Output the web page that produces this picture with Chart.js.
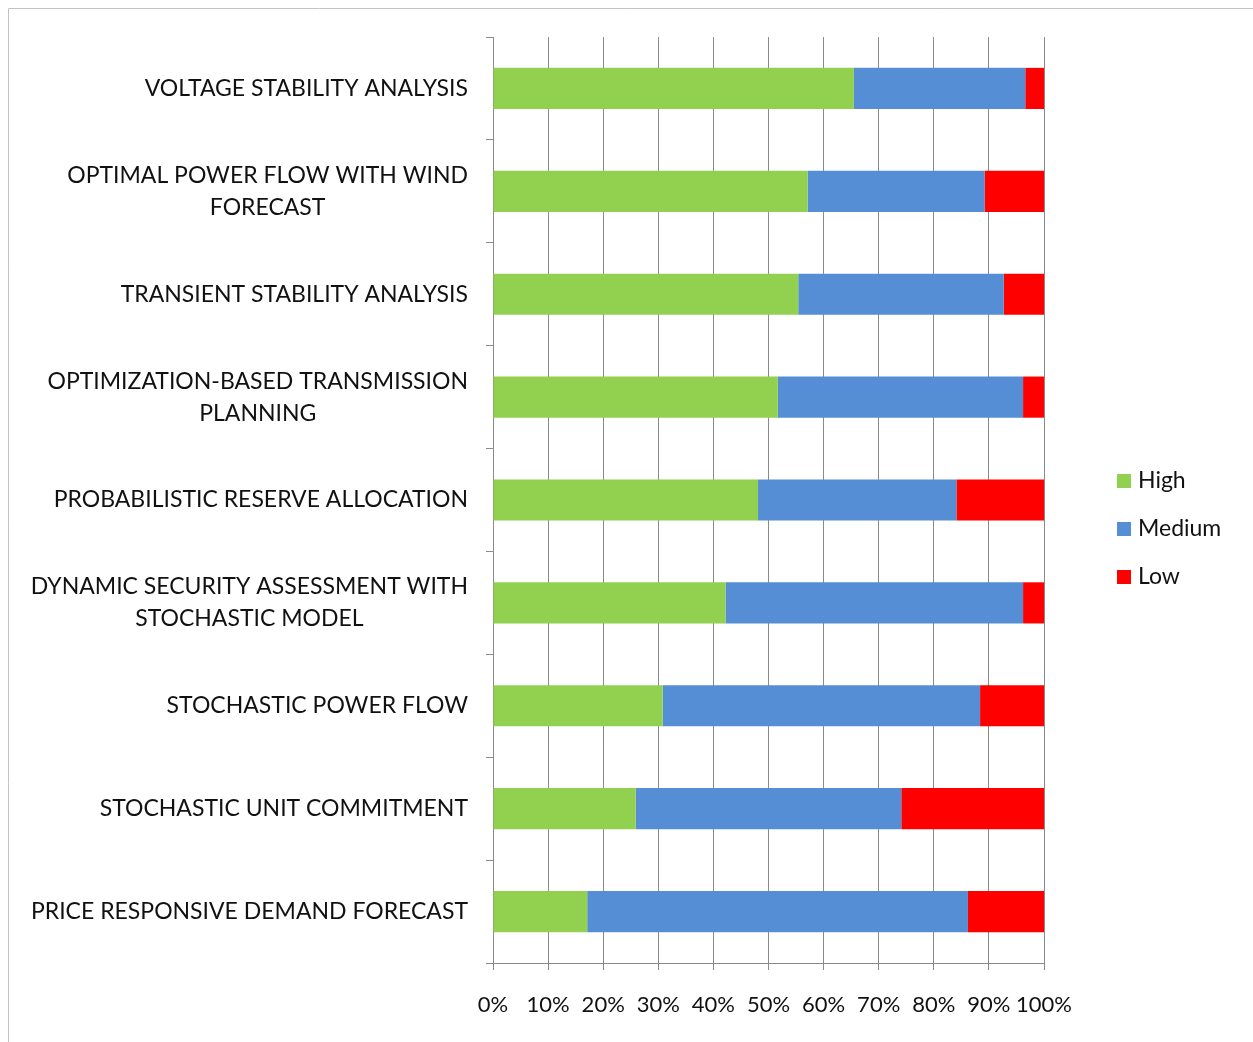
<!DOCTYPE html>
<html>
<head>
<meta charset="utf-8">
<script src="https://cdn.jsdelivr.net/npm/chart.js@4/dist/chart.umd.min.js"></script>
<style>
  html, body { margin: 0; padding: 0; background: #fff; }
</style>
</head>
<body>
<canvas id="chart" width="1253" height="1042"></canvas>
<script>
// categories (multi-line labels), top to bottom
const categories = [
  ["VOLTAGE STABILITY ANALYSIS"],
  ["OPTIMAL POWER FLOW WITH WIND", "FORECAST"],
  ["TRANSIENT STABILITY ANALYSIS"],
  ["OPTIMIZATION-BASED TRANSMISSION", "PLANNING"],
  ["PROBABILISTIC RESERVE ALLOCATION"],
  ["DYNAMIC SECURITY ASSESSMENT WITH", "STOCHASTIC MODEL"],
  ["STOCHASTIC POWER FLOW"],
  ["STOCHASTIC UNIT COMMITMENT"],
  ["PRICE RESPONSIVE DEMAND FORECAST"]
];

// share of answers, in %
const high   = [65.5, 57.1, 55.4, 51.7, 48.1, 42.2, 30.8, 25.9, 17.1];
const medium = [31.1, 32.1, 37.3, 44.5, 36.0, 54.0, 57.6, 48.2, 69.1];
const low    = [ 3.4, 10.8,  7.3,  3.8, 15.9,  3.8, 11.6, 25.9, 13.8];

const seriesNames = ["High", "Medium", "Low"];
const seriesColors = ["#92D050", "#558ED5", "#FF0000"];
const xTicks = [0, 10, 20, 30, 40, 50, 60, 70, 80, 90, 100];

const FONT = "Lato";

// frame + white background
const framePlugin = {
  id: "frame",
  beforeDraw(chart) {
    const ctx = chart.ctx;
    ctx.save();
    ctx.fillStyle = "#fff";
    ctx.fillRect(0, 0, chart.width, chart.height);
    ctx.strokeStyle = "#c3c3c3";
    ctx.lineWidth = 1;
    ctx.beginPath();
    ctx.moveTo(8.5, chart.height);
    ctx.lineTo(8.5, 8.5);
    ctx.lineTo(chart.width, 8.5);
    ctx.stroke();
    ctx.restore();
  }
};

// category labels: right aligned block, lines centred inside the block
const yLabelPlugin = {
  id: "yLabels",
  afterDraw(chart) {
    const ctx = chart.ctx;
    const yScale = chart.scales.y;
    ctx.save();
    ctx.font = "23px " + FONT;
    ctx.fillStyle = "#111";
    ctx.textAlign = "center";
    ctx.textBaseline = "middle";
    categories.forEach((lines, i) => {
      const yc = yScale.getPixelForValue(i);
      const w = Math.max(...lines.map(l => ctx.measureText(l).width));
      const cx = yScale.right - 25 - w / 2;
      lines.forEach((line, j) => {
        ctx.fillText(line, cx, yc + (j - (lines.length - 1) / 2) * 32);
      });
    });
    ctx.restore();
  }
};

// legend on the right
const legendPlugin = {
  id: "sideLegend",
  afterDraw(chart) {
    const ctx = chart.ctx;
    ctx.save();
    ctx.font = "23px " + FONT;
    ctx.textAlign = "left";
    ctx.textBaseline = "middle";
    chart.data.datasets.forEach((ds, i) => {
      const y = 481 + i * 48;
      ctx.fillStyle = ds.backgroundColor;
      ctx.fillRect(1117, y - 7, 14, 14);
      ctx.fillStyle = "#111";
      ctx.fillText(ds.label, 1138, y);
    });
    ctx.restore();
  }
};

const seriesData = [high, medium, low];

new Chart(document.getElementById("chart"), {
  type: "bar",
  data: {
    labels: categories.map(l => l.join(" ")),
    datasets: seriesNames.map((name, i) => ({
      label: name,
      data: seriesData[i],
      backgroundColor: seriesColors[i],
      borderWidth: 0,
      barPercentage: 0.4,
      categoryPercentage: 1
    }))
  },
  options: {
    indexAxis: "y",
    responsive: false,
    animation: false,
    layout: { padding: { left: 0, top: 37, right: 209, bottom: 0 } },
    plugins: {
      legend: { display: false },
      tooltip: { enabled: false }
    },
    scales: {
      x: {
        stacked: true,
        min: 0,
        max: 100,
        afterBuildTicks(scale) {
          scale.ticks = xTicks.map(v => ({ value: v }));
        },
        afterFit(scale) { scale.height = 79; },
        ticks: {
          callback: v => v + "%",
          font: { family: FONT, size: 22 },
          color: "#111",
          padding: 22,
          maxRotation: 0,
          autoSkip: false
        },
        grid: { color: "#8a8a8a", tickLength: 7, lineWidth: 1 },
        border: { color: "#8a8a8a" }
      },
      y: {
        stacked: true,
        afterFit(scale) { scale.width = 493; },
        ticks: { display: false },
        grid: { drawOnChartArea: false, offset: true, tickLength: 7, color: "#8a8a8a" },
        border: { color: "#8a8a8a" }
      }
    }
  },
  plugins: [framePlugin, yLabelPlugin, legendPlugin]
});
</script>
</body>
</html>
